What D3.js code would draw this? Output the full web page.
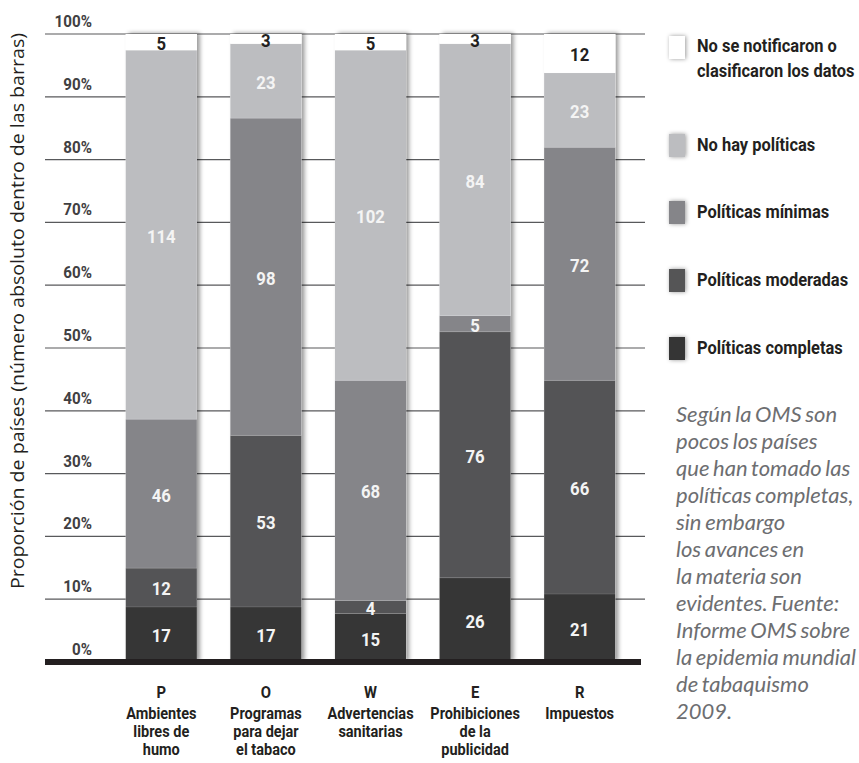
<!DOCTYPE html>
<html><head><meta charset="utf-8">
<script src="https://cdn.jsdelivr.net/npm/d3@7"></script>
<style>
html,body{margin:0;padding:0;background:#fff;overflow:hidden;}
svg{display:block;}
</style></head>
<body>
<svg id="chart" width="859" height="763"></svg>
<script>
const codes = ["P","O","W","E","R"];
const categoryLines = [
  ["Ambientes","libres de","humo"],
  ["Programas","para dejar","el tabaco"],
  ["Advertencias","sanitarias"],
  ["Prohibiciones","de la","publicidad"],
  ["Impuestos"]
];
const seriesNames = ["Políticas completas","Políticas moderadas","Políticas mínimas","No hay políticas","No se notificaron o clasificaron los datos"];
const completas  = [17, 17, 15, 26, 21];
const moderadas  = [12, 53, 4, 76, 66];
const minimas    = [46, 98, 68, 5, 72];
const noHay      = [114, 23, 102, 84, 23];
const noDatos    = [5, 3, 5, 3, 12];
const yTicks = [0,10,20,30,40,50,60,70,80,90,100];
const legendLines = [
  ["No se notificaron o","clasificaron los datos"],
  ["No hay políticas"],
  ["Políticas mínimas"],
  ["Políticas moderadas"],
  ["Políticas completas"]
];
const noteLines = ["Según la OMS son","pocos los países","que han tomado las","políticas completas,","sin embargo","los avances en","la materia son","evidentes. Fuente:","Informe OMS sobre","la epidemia mundial","de tabaquismo","2009."];
const yTitle = "Proporción de países (número absoluto dentro de las barras)";

const colors = ["#363636","#545456","#858589","#bcbdc0","#ffffff"];
const labelColors = ["#f4f4f4","#f4f4f4","#f4f4f4","#f4f4f4","#231f20"];
const FONT = "Roboto,'Noto Sans',sans-serif";

const svg = d3.select("#chart");
const defs = svg.append("defs");
const f = defs.append("filter").attr("id","shadow").attr("x","-20%").attr("y","-10%").attr("width","150%").attr("height","120%");
f.append("feDropShadow").attr("dx",3).attr("dy",-1).attr("stdDeviation",2).attr("flood-color","#000").attr("flood-opacity",0.4);
const f2 = defs.append("filter").attr("id","lshadow").attr("x","-50%").attr("y","-50%").attr("width","200%").attr("height","200%");
f2.append("feDropShadow").attr("dx",1).attr("dy",0).attr("stdDeviation",2).attr("flood-color","#000").attr("flood-opacity",0.4);

function ctext(parent, x, y, txt, opts){
  const g = parent.append("g").attr("transform",`translate(${x},${y}) scale(${opts.sx||1},1)`);
  return g.append("text")
    .attr("text-anchor",opts.anchor||"start")
    .attr("dominant-baseline",opts.baseline||"auto")
    .attr("font-family",FONT).attr("font-weight",opts.weight||"bold")
    .attr("font-size",opts.size).attr("fill",opts.fill||"#231f20")
    .text(txt);
}

const seriesArr = [completas, moderadas, minimas, noHay, noDatos];
const rows = codes.map((c,i)=>{
  const o = {code:c, idx:i};
  seriesArr.forEach((s,k)=>o["s"+k]=s[i]);
  return o;
});
const keys = seriesArr.map((s,k)=>"s"+k);
const stack = d3.stack().keys(keys).offset(d3.stackOffsetExpand)(rows);

const x = d3.scaleBand().domain(codes).range([109,632]).paddingInner(0.32).paddingOuter(0.16);
const y = d3.scaleLinear().domain([0,1]).range([662,34]);

// gridlines
svg.append("g").selectAll("line").data(yTicks.filter(t=>t>0)).join("line")
  .attr("x1",45).attr("x2",645)
  .attr("y1",d=>y(d/100)).attr("y2",d=>y(d/100))
  .attr("stroke","#58595b").attr("stroke-width",1.2);

// tick labels
const tg = svg.append("g");
yTicks.forEach(t=>ctext(tg, 92, y(t/100)-7, t+"%", {size:16, sx:0.95, anchor:"end", fill:"#414042"}));

// y title
svg.append("text")
  .attr("transform","translate(24,311) rotate(-90)")
  .attr("text-anchor","middle")
  .attr("font-family","'Open Sans','Noto Sans',sans-serif").attr("font-size",18.5)
  .attr("textLength",556).attr("lengthAdjust","spacingAndGlyphs")
  .attr("fill","#231f20")
  .text(yTitle);

// bars
const barsG = svg.append("g");
barsG.selectAll("rect.sh").data(codes).join("rect")
  .attr("x",d=>x(d)).attr("width",x.bandwidth())
  .attr("y",y(1)).attr("height",y(0)-y(1))
  .attr("fill","#fff").attr("filter","url(#shadow)");
stack.forEach((layer,k)=>{
  barsG.append("g").selectAll("rect").data(layer).join("rect")
    .attr("x",d=>x(d.data.code)).attr("width",x.bandwidth())
    .attr("y",d=>y(d[1])).attr("height",d=>y(d[0])-y(d[1]))
    .attr("fill",colors[k]);
});
stack.forEach((layer,k)=>{
  if(k===0) return;
  barsG.append("g").selectAll("line").data(layer).join("line")
    .attr("x1",d=>x(d.data.code)).attr("x2",d=>x(d.data.code)+x.bandwidth())
    .attr("y1",d=>y(d[0])).attr("y2",d=>y(d[0]))
    .attr("stroke","#ffffff").attr("stroke-opacity",0.12).attr("stroke-width",1);
});
// value labels
const lg = svg.append("g");
stack.forEach((layer,k)=>{
  layer.forEach(d=>{
    ctext(lg, x(d.data.code)+x.bandwidth()/2, (y(d[0])+y(d[1]))/2+1, d.data["s"+k],
      {size:19, sx:0.88, anchor:"middle", baseline:"central", weight:"bold", fill:labelColors[k]});
  });
});

// baseline
svg.append("line").attr("x1",45).attr("x2",641).attr("y1",y(0)).attr("y2",y(0))
  .attr("stroke","#231f20").attr("stroke-width",6);

// category labels
const cg = svg.append("g");
codes.forEach((c,i)=>{
  const cx = x(c)+x.bandwidth()/2;
  ctext(cg, cx, 698, c, {size:16.5, sx:0.9, anchor:"middle"});
  categoryLines[i].forEach((t,j)=>ctext(cg, cx, 719+j*18, t, {size:16.5, sx:0.88, anchor:"middle"}));
});

// legend
const legY = [36,134,201,269,337];
const legColors = colors.slice().reverse();
const leg = svg.append("g");
legendLines.forEach((lines,i)=>{
  leg.append("rect").attr("x",669).attr("y",legY[i]).attr("width",16).attr("height",23)
    .attr("fill",legColors[i]).attr("filter","url(#lshadow)");
  lines.forEach((t,j)=>ctext(leg, 697, legY[i]+(lines.length>1?16:17)+j*25, t, {size:17.5, sx:0.94}));
});

// note
svg.append("g").selectAll("text").data(noteLines).join("text")
  .attr("x",676).attr("y",(d,i)=>422+i*27)
  .attr("font-family","Lato,'Open Sans',sans-serif").attr("font-style","italic").attr("font-size",22)
  .attr("word-spacing",-1.5)
  .attr("fill","#6d6e71")
  .text(d=>d);
</script>
</body></html>
